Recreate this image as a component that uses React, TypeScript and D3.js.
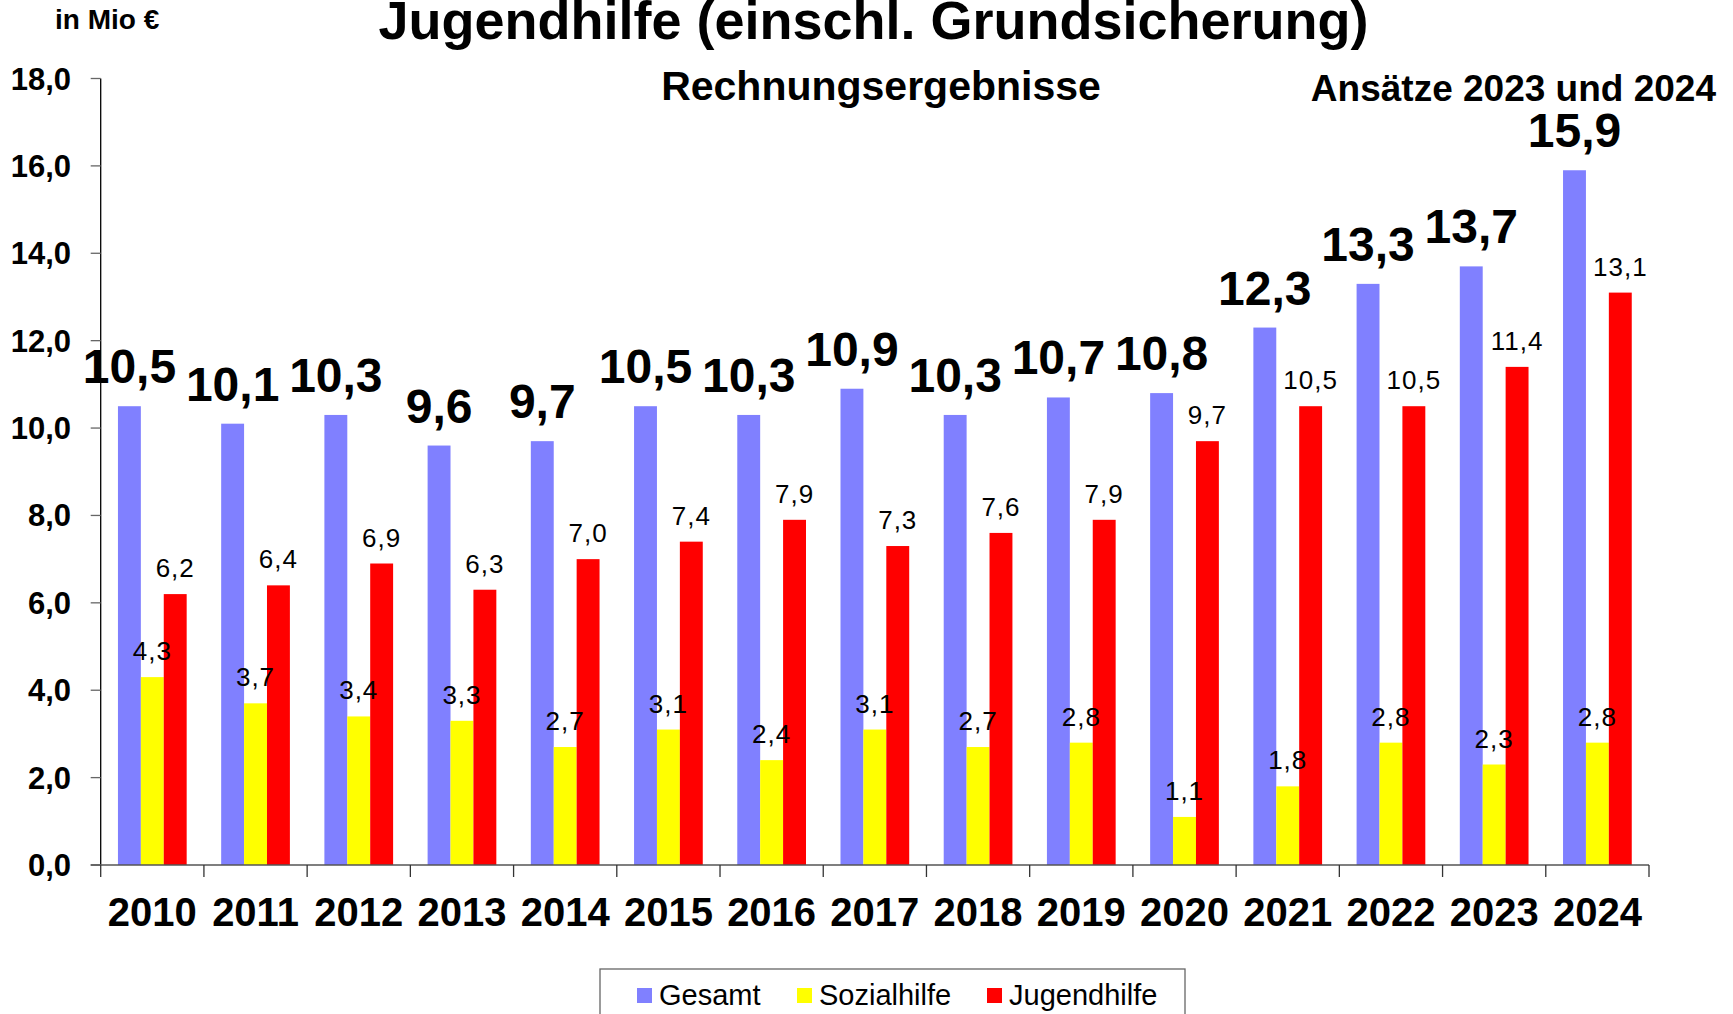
import React from "react";
import * as d3 from "d3";

const years = ["2010","2011","2012","2013","2014","2015","2016","2017","2018","2019","2020","2021","2022","2023","2024"];
const gesamt = [10.5, 10.1, 10.3, 9.6, 9.7, 10.5, 10.3, 10.9, 10.3, 10.7, 10.8, 12.3, 13.3, 13.7, 15.9];
const sozialhilfe = [4.3, 3.7, 3.4, 3.3, 2.7, 3.1, 2.4, 3.1, 2.7, 2.8, 1.1, 1.8, 2.8, 2.3, 2.8];
const jugendhilfe = [6.2, 6.4, 6.9, 6.3, 7.0, 7.4, 7.9, 7.3, 7.6, 7.9, 9.7, 10.5, 10.5, 11.4, 13.1];
const seriesNames = ["Gesamt", "Sozialhilfe", "Jugendhilfe"];
const seriesColors = ["#8080FF", "#FFFF00", "#FF0000"];
const yTicks = [0, 2, 4, 6, 8, 10, 12, 14, 16, 18];

const W = 1733, H = 1014;
const FONT = "'Liberation Sans', Arial, Helvetica, sans-serif";
const fmt = (v: number) => v.toFixed(1).replace(".", ",");

export default function App() {
  const left = 100.7, right = 1649, top = 78.5, bottom = 865;
  const x = d3.scaleBand<string>().domain(years).range([left, right]).paddingInner(0).paddingOuter(0);
  const inner = d3.scaleBand<string>().domain(seriesNames).range([0, x.bandwidth()]).paddingInner(0).paddingOuter(0.753);
  const y = d3.scaleLinear().domain([0, 18]).range([bottom, top]);
  const data = [gesamt, sozialhilfe, jugendhilfe];

  const legendItems = [
    { sq: 637, tx: 659 },
    { sq: 797, tx: 819 },
    { sq: 987, tx: 1009 },
  ];

  return (
    <svg width={W} height={H} style={{ position: "absolute", left: 0, top: 0, background: "#fff" }} fontFamily={FONT}>
      <rect x={0} y={0} width={W} height={H} fill="#fff" />
      {/* titles */}
      <text x={873.5} y={39} textAnchor="middle" fontSize={54} fontWeight="bold">Jugendhilfe (einschl. Grundsicherung)</text>
      <text x={55} y={29} fontSize={28} fontWeight="bold">in Mio €</text>
      <text x={881} y={100} textAnchor="middle" fontSize={41} fontWeight="bold">Rechnungsergebnisse</text>
      <text x={1716} y={101} textAnchor="end" fontSize={37} fontWeight="bold">Ansätze 2023 und 2024</text>

      {/* bars */}
      {data.map((vals, si) =>
        vals.map((v, i) => (
          <rect key={`${si}-${i}`} x={(x(years[i]) as number) + (inner(seriesNames[si]) as number)} y={y(v)}
            width={inner.bandwidth()} height={y(0) - y(v)} fill={seriesColors[si]} />
        ))
      )}

      {/* y axis */}
      <line x1={left} x2={left} y1={top} y2={bottom} stroke="#000" strokeWidth={1.3} />
      {yTicks.map((t) => (
        <g key={t}>
          <line x1={left - 10} x2={left} y1={y(t)} y2={y(t)} stroke="#666" strokeWidth={1.3} />
          <text x={71} y={y(t) + 11} textAnchor="end" fontSize={31} fontWeight="bold">{fmt(t)}</text>
        </g>
      ))}

      {/* x axis */}
      <line x1={left - 10} x2={right} y1={bottom} y2={bottom} stroke="#555" strokeWidth={1.3} />
      {[...years.map((yr) => x(yr) as number), right].map((px, i) => (
        <line key={i} x1={px} x2={px} y1={bottom} y2={bottom + 12} stroke="#333" strokeWidth={1.3} />
      ))}
      {years.map((yr) => (
        <text key={yr} x={(x(yr) as number) + x.bandwidth() / 2} y={926} textAnchor="middle" fontSize={40} fontWeight="bold">{yr}</text>
      ))}

      {/* value labels */}
      {gesamt.map((v, i) => (
        <text key={`g${i}`} x={(x(years[i]) as number) + (inner("Gesamt") as number) + inner.bandwidth() / 2}
          y={y(v) - 23} textAnchor="middle" fontSize={48} fontWeight="bold">{fmt(v)}</text>
      ))}
      {[sozialhilfe, jugendhilfe].map((vals, k) =>
        vals.map((v, i) => (
          <text key={`s${k}-${i}`} x={(x(years[i]) as number) + (inner(seriesNames[k + 1]) as number) + inner.bandwidth() / 2}
            y={y(v) - 17} textAnchor="middle" fontSize={26} letterSpacing={1}>{fmt(v)}</text>
        ))
      )}

      {/* legend */}
      <rect x={600} y={969} width={585} height={70} fill="#fff" stroke="#666" strokeWidth={1.3} />
      {seriesNames.map((n, i) => (
        <g key={n}>
          <rect x={legendItems[i].sq} y={988} width={15} height={15} fill={seriesColors[i]} />
          <text x={legendItems[i].tx} y={1005} fontSize={29}>{n}</text>
        </g>
      ))}
    </svg>
  );
}
